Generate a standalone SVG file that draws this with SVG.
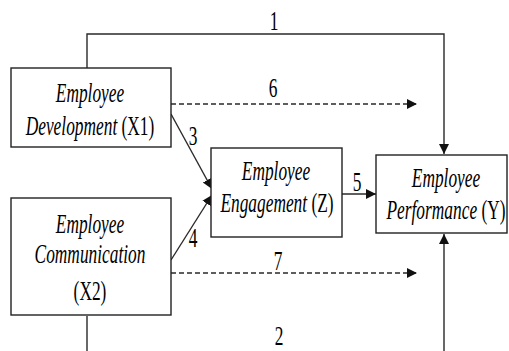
<svg xmlns="http://www.w3.org/2000/svg" width="509" height="351" viewBox="0 0 509 351">
  <style>
    .box { fill: #ffffff; stroke: #222222; stroke-width: 1.4; }
    .edge { fill: none; stroke: #2a2a2a; stroke-width: 1.4; }
    .dash { stroke-dasharray: 5 3; }
    .lbl { font-family: "Liberation Serif", "Times New Roman", serif; font-size: 28px; fill: #000000; text-anchor: middle; }
    .it { font-style: italic; }
  </style>
  <defs>
    <marker id="arrow" markerUnits="userSpaceOnUse" markerWidth="12" markerHeight="12" viewBox="0 0 12 12" refX="10" refY="6" orient="auto">
      <path d="M0,1 L10,6 L0,11 Z" fill="#111111"/>
    </marker>
  </defs>
  <rect width="509" height="351" fill="#ffffff"/>

  <g id="connectors">
    <!-- path 1: X1 over the top into Y -->
    <path class="edge" d="M87,68 V34 H444 V154" marker-end="url(#arrow)"/>
    <!-- path 2: X2 under the bottom into Y -->
    <path class="edge" d="M87,316 V362 H444 V234" marker-end="url(#arrow)"/>
    <!-- paths 3 and 4 into Z -->
    <path class="edge" d="M171,114 L212,189" marker-end="url(#arrow)"/>
    <path class="edge" d="M171,260 L212,195" marker-end="url(#arrow)"/>
    <!-- path 5: Z to Y -->
    <path class="edge" d="M342,194 H376" marker-end="url(#arrow)"/>
    <!-- indirect effects 6 and 7 -->
    <path class="edge dash" d="M171,104 H417" marker-end="url(#arrow)"/>
    <path class="edge dash" d="M171,273 H417" marker-end="url(#arrow)"/>

    <g class="lbl">
      <text transform="translate(274,30) scale(0.62,1)">1</text>
      <text transform="translate(279,345) scale(0.62,1)">2</text>
      <text transform="translate(193,145) scale(0.62,1)">3</text>
      <text transform="translate(193,247) scale(0.62,1)">4</text>
      <text transform="translate(357,191) scale(0.62,1)">5</text>
      <text transform="translate(273,97) scale(0.62,1)">6</text>
      <text transform="translate(278,270) scale(0.62,1)">7</text>
    </g>
  </g>

  <g id="node-x1">
    <rect class="box" x="11" y="68" width="160" height="79"/>
    <text class="lbl it" transform="translate(90,102) scale(0.62,1)">Employee</text>
    <text class="lbl" transform="translate(90,135) scale(0.62,1)"><tspan class="it">Development</tspan> (X1)</text>
  </g>

  <g id="node-x2">
    <rect class="box" x="11" y="198" width="160" height="117"/>
    <text class="lbl it" transform="translate(90,233) scale(0.62,1)">Employee</text>
    <text class="lbl it" transform="translate(90,263) scale(0.62,1)">Communication</text>
    <text class="lbl" transform="translate(90,300) scale(0.62,1)">(X2)</text>
  </g>

  <g id="node-z">
    <rect class="box" x="211" y="148" width="131" height="89"/>
    <text class="lbl it" transform="translate(276,180) scale(0.62,1)">Employee</text>
    <text class="lbl" transform="translate(277,212) scale(0.62,1)"><tspan class="it">Engagement</tspan> (Z)</text>
  </g>

  <g id="node-y">
    <rect class="box" x="376" y="155" width="131" height="78"/>
    <text class="lbl it" transform="translate(446,187) scale(0.62,1)">Employee</text>
    <text class="lbl" transform="translate(446,219) scale(0.62,1)"><tspan class="it">Performance</tspan> (Y)</text>
  </g>
</svg>
